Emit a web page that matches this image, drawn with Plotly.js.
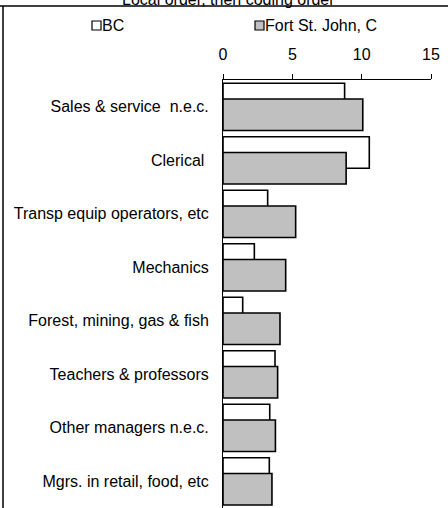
<!DOCTYPE html>
<html>
<head>
<meta charset="utf-8">
<script src="https://cdn.plot.ly/plotly-3.0.1.min.js"></script>
<style>html,body{margin:0;padding:0;background:#fff;}#chart{width:448px;height:508px;}</style>
</head>
<body>
<div id="chart"></div>
<script>
const categories = ["Sales & service  n.e.c.", "Clerical ", "Transp equip operators, etc", "Mechanics", "Forest, mining, gas & fish", "Teachers & professors", "Other managers n.e.c.", "Mgrs. in retail, food, etc"];
const seriesNames = ["BC", "Fort St. John, C"];
const bcValues = [8.77, 10.55, 3.22, 2.26, 1.42, 3.75, 3.37, 3.34];
const fsjValues = [10.08, 8.88, 5.24, 4.52, 4.11, 3.94, 3.78, 3.53];
const xTicks = [0, 5, 10, 15];
const titleText = "Local order, then coding order";

const FONT = "Liberation Sans, Arial, sans-serif";
const FS = 16;
const fills = ["#ffffff", "#c0c0c0"];

const traces = [
  {type: "bar", orientation: "h", name: seriesNames[0], y: categories, x: bcValues,
   width: 0.59, offset: -0.44, marker: {color: fills[0], line: {color: "#000", width: 1.6}},
   showlegend: false, hoverinfo: "x+name"},
  {type: "bar", orientation: "h", name: seriesNames[1], y: categories, x: fsjValues,
   width: 0.59, offset: -0.145, marker: {color: fills[1], line: {color: "#000", width: 1.6}},
   showlegend: false, hoverinfo: "x+name"}
];

// helpers: pixel -> paper
const px2x = p => (p - 223) / 208;
const px2y = p => 1 + (80 - p) / 428;

const legendX = [92, 255];
const shapes = [
  {type: "line", xref: "paper", yref: "paper", x0: px2x(0), x1: px2x(460), y0: px2y(6), y1: px2y(6), line: {color: "#000", width: 1.5}},
  {type: "line", xref: "paper", yref: "paper", x0: px2x(3), x1: px2x(3), y0: px2y(520), y1: px2y(6), line: {color: "#000", width: 1.5}}
];
const annotations = [
  {text: titleText, xref: "paper", yref: "paper", x: px2x(228), y: px2y(10), xanchor: "center", yanchor: "bottom", showarrow: false, font: {family: FONT, size: FS, color: "#000"}}
];
seriesNames.forEach((n, i) => {
  const px = legendX[i];
  shapes.push({type: "rect", xref: "paper", yref: "paper",
    x0: px2x(px), x1: px2x(px + 9), y0: px2y(30), y1: px2y(21),
    fillcolor: fills[i], line: {color: "#000", width: 1.2}});
  annotations.push({text: n, xref: "paper", yref: "paper", x: px2x(px + 8), y: px2y(25.5),
    xanchor: "left", yanchor: "middle", showarrow: false, font: {family: FONT, size: FS, color: "#000"}});
});

const layout = {
  width: 448, height: 508,
  margin: {l: 223, r: 17, t: 80, b: 0, pad: 0},
  paper_bgcolor: "#fff", plot_bgcolor: "#fff",
  barmode: "overlay",
  showlegend: false,
  xaxis: {side: "top", range: [0, 15], tickvals: xTicks, ticktext: xTicks.map(String),
    showgrid: false, zeroline: false, showline: true, linecolor: "#000", linewidth: 1,
    ticks: "outside", ticklen: 5, tickcolor: "#000", tickwidth: 1,
    tickfont: {family: FONT, size: FS, color: "#000"}, ticklabelstandoff: 8, fixedrange: true},
  yaxis: {type: "category", autorange: "reversed", showgrid: false, zeroline: false,
    showline: true, linecolor: "#000", linewidth: 1, ticks: "",
    tickfont: {family: FONT, size: FS, color: "#000"}, ticklabelstandoff: 10, fixedrange: true},
  shapes: shapes,
  annotations: annotations
};

Plotly.newPlot("chart", traces, layout, {displayModeBar: false, staticPlot: true});
</script>
</body>
</html>
